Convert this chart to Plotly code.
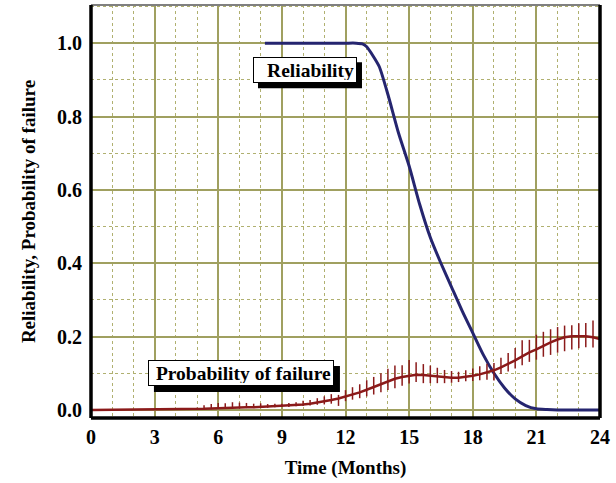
import plotly.graph_objects as go

# ---------------- data ----------------
rel_x = [8.2, 9, 10, 11, 12, 12.5, 12.8, 13.0, 13.3, 13.6, 14.0, 14.5, 15.0, 15.5,
         16.0, 16.5, 17.0, 17.5, 18.0, 18.5, 19.0, 19.5, 20.0, 20.5, 21.0, 21.5, 22, 23, 24]
rel_y = [1.0, 1.0, 1.0, 1.0, 1.0, 1.0, 0.998, 0.99, 0.965, 0.935, 0.86, 0.755, 0.665, 0.56,
         0.47, 0.40, 0.335, 0.27, 0.21, 0.15, 0.10, 0.06, 0.03, 0.012, 0.003, 0.001, 0.0, 0.0, 0.0]

lead_x = [0.0, 4.5]
lead_y = [0.0, 0.001]

fail_x = [5.00, 5.33, 5.67, 6.00, 6.33, 6.67, 7.00, 7.33, 7.67, 8.00, 8.33, 8.67,
          9.00, 9.33, 9.67, 10.00, 10.33, 10.67, 11.00, 11.33, 11.67, 12.00, 12.33, 12.67,
          13.00, 13.33, 13.67, 14.00, 14.33, 14.67, 15.00, 15.33, 15.67, 16.00, 16.33, 16.67,
          17.00, 17.33, 17.67, 18.00, 18.33, 18.67, 19.00, 19.33, 19.67, 20.00, 20.33, 20.67,
          21.00, 21.33, 21.67, 22.00, 22.33, 22.67, 23.00, 23.33, 23.67, 24.00]
fail_y = [0.002, 0.003, 0.004, 0.005, 0.005, 0.006, 0.006, 0.007, 0.007, 0.008, 0.008, 0.009,
          0.010, 0.011, 0.013, 0.015, 0.017, 0.020, 0.023, 0.027, 0.031, 0.036, 0.042, 0.048,
          0.055, 0.062, 0.070, 0.078, 0.085, 0.090, 0.094, 0.096, 0.095, 0.093, 0.091, 0.089,
          0.088, 0.088, 0.090, 0.093, 0.097, 0.102, 0.108, 0.116, 0.125, 0.135, 0.146, 0.157,
          0.165, 0.175, 0.184, 0.192, 0.198, 0.201, 0.202, 0.201, 0.198, 0.193]
spike_up = [0.004, 0.010, 0.012, 0.014, 0.013, 0.015, 0.014, 0.012, 0.010, 0.010, 0.008, 0.008,
            0.007, 0.008, 0.008, 0.010, 0.010, 0.012, 0.014, 0.016, 0.010, 0.018, 0.020, 0.022,
            0.026, 0.028, 0.030, 0.034, 0.036, 0.032, 0.042, 0.034, 0.030, 0.028, 0.024, 0.020,
            0.018, 0.016, 0.018, 0.020, 0.022, 0.024, 0.020, 0.026, 0.030, 0.034, 0.044, 0.034,
            0.040, 0.038, 0.036, 0.034, 0.032, 0.030, 0.034, 0.036, 0.046, 0.040]
spike_down = [0.000, 0.000, 0.002, 0.002, 0.002, 0.002, 0.002, 0.002, 0.002, 0.002, 0.002, 0.002,
              0.002, 0.003, 0.003, 0.004, 0.005, 0.006, 0.008, 0.010, 0.020, 0.012, 0.014, 0.016,
              0.018, 0.020, 0.022, 0.024, 0.026, 0.024, 0.022, 0.020, 0.022, 0.020, 0.018, 0.016,
              0.014, 0.012, 0.012, 0.014, 0.016, 0.020, 0.028, 0.018, 0.020, 0.022, 0.024, 0.026,
              0.028, 0.030, 0.034, 0.036, 0.038, 0.036, 0.034, 0.030, 0.028, 0.024]

x_ticks = [0, 3, 6, 9, 12, 15, 18, 21, 24]
y_ticks = [0.0, 0.2, 0.4, 0.6, 0.8, 1.0]
y_tick_text = ["0.0", "0.2", "0.4", "0.6", "0.8", "1.0"]

# ---------------- styles ----------------
FONT = "Liberation Serif"
NAVY = "#25256f"
RED = "#8b1a1a"
MAJOR = "#a0a060"
MINOR = "#b0b070"

fig = go.Figure()

fig.add_trace(go.Scatter(x=rel_x, y=rel_y, mode="lines",
                         line=dict(color=NAVY, width=3, shape="spline", smoothing=0.6),
                         hoverinfo="skip", showlegend=False))

fig.add_trace(go.Scatter(x=lead_x + fail_x, y=lead_y + fail_y, mode="lines",
                         line=dict(color=RED, width=2.5), showlegend=False,
                         hoverinfo="skip"))

fig.add_trace(go.Scatter(x=fail_x, y=fail_y, mode="markers",
                         marker=dict(size=1, color=RED, opacity=0),
                         error_y=dict(type="data", symmetric=False, array=spike_up,
                                      arrayminus=spike_down, width=0, thickness=1.5,
                                      color=RED),
                         showlegend=False, hoverinfo="skip"))

shapes = []

def boxed(text, x, y, bw, bh, off):
    # drop shadow as a pixel-sized rectangle anchored on the label point
    shapes.append(dict(type="rect", xref="x", yref="y", xsizemode="pixel",
                       ysizemode="pixel", xanchor=x, yanchor=y,
                       x0=-bw / 2 + off, x1=bw / 2 + off,
                       y0=-bh / 2 - off, y1=bh / 2 - off,
                       fillcolor="black", line=dict(width=0), layer="above"))
    fig.add_annotation(x=x, y=y, xref="x", yref="y", text="<b>" + text + "</b>",
                       showarrow=False,
                       font=dict(family=FONT, size=19.5, color="black"),
                       bgcolor="white", bordercolor="black", borderwidth=1,
                       width=bw - 6, height=bh - 6, align="right", borderpad=2)

boxed("Reliability", 10.09, 0.926, 104, 26, 5)
boxed("Probability of failure", 7.07, 0.101, 186, 26, 6)

shapes += [
    dict(type="line", xref="paper", yref="paper", x0=0, x1=1, y0=1, y1=1,
         line=dict(color="#808080", width=2), layer="above"),
    dict(type="line", xref="paper", yref="paper", x0=0, x1=0, y0=0, y1=1,
         line=dict(color="black", width=3.5), layer="above"),
    dict(type="line", xref="paper", yref="paper", x0=0, x1=1, y0=0, y1=0,
         line=dict(color="black", width=3.5), layer="above"),
    dict(type="line", xref="paper", yref="paper", x0=1, x1=1, y0=0, y1=1,
         line=dict(color="black", width=3.5), layer="above"),
]

fig.update_layout(
    width=616, height=483,
    margin=dict(l=91, r=16, t=5, b=65),
    paper_bgcolor="white", plot_bgcolor="white",
    font=dict(family=FONT, size=19, color="black"),
    xaxis=dict(range=[0, 24], tickvals=x_ticks, ticktext=[f"<b>{v}</b>" for v in x_ticks],
               showgrid=True, gridcolor=MAJOR, gridwidth=1.5,
               minor=dict(dtick=1, tick0=0, showgrid=True, gridcolor=MINOR,
                          griddash="dot", gridwidth=1),
               zeroline=False, showline=False, ticks="",
               ticklabelstandoff=5,
               tickfont=dict(family=FONT, size=20, color="black"),
               title=dict(text="<b>Time (Months)</b>", standoff=13,
                          font=dict(family=FONT, size=19, color="black"))),
    yaxis=dict(range=[-0.022, 1.104], tickvals=y_ticks,
               ticktext=[f"<b>{t}</b>" for t in y_tick_text],
               showgrid=True, gridcolor=MAJOR, gridwidth=1.5,
               minor=dict(dtick=0.1, tick0=0, showgrid=True, gridcolor=MINOR,
                          griddash="dot", gridwidth=1),
               zeroline=False, showline=False, ticks="",
               ticklabelstandoff=8,
               tickfont=dict(family=FONT, size=20, color="black"),
               title=dict(text="<b>Reliability, Probability of failure</b>", standoff=16,
                          font=dict(family=FONT, size=19, color="black"))),
    shapes=shapes,
)

fig.write_html("out.html")
